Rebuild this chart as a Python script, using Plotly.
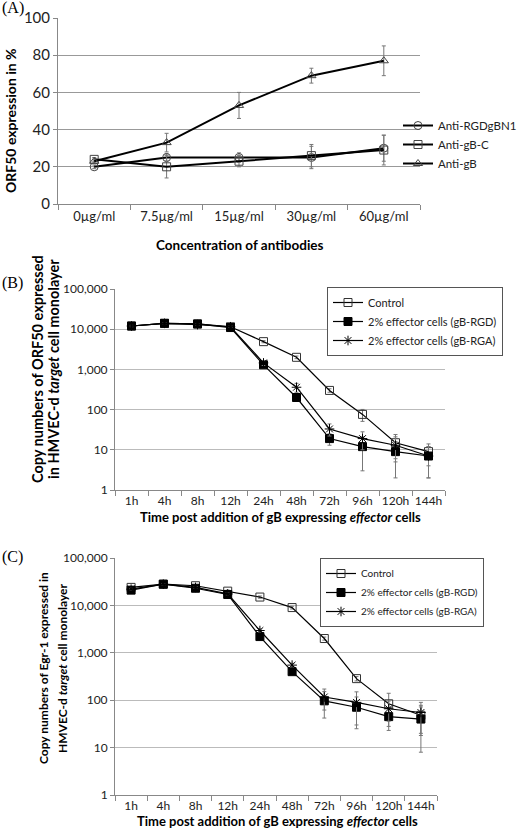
import plotly.graph_objects as go

# ---------------- Data ----------------
conc = ["0µg/ml", "7.5µg/ml", "15µg/ml", "30µg/ml", "60µg/ml"]
a_rgd = [20, 25, 25, 25, 30]
a_rgd_err = [1, 2, 2.5, 6, 7]
a_gbc = [24, 20, 23, 26, 29]
a_gbc_err = [1, 6, 3, 6, 8]
a_gb = [23, 33, 53, 69, 77]
a_gb_err = [1, 5, 7, 4, 8]

times = ["1h", "4h", "8h", "12h", "24h", "48h", "72h", "96h", "120h", "144h"]
b_ctrl = [12000, 14000, 13500, 11500, 4900, 2000, 300, 76, 15, 9]
b_ctrl_err = [500, 500, 500, 500, 300, 150, 30, 25, 9, 5]
b_rgd = [12000, 14000, 13500, 11000, 1300, 200, 19, 12, 9, 7]
b_rgd_err = [500, 500, 500, 500, 150, 30, 6, 9, 7, 5]
b_rga = [12000, 14000, 13000, 11500, 1450, 360, 33, 19, 13, 7]
b_rga_err = [500, 500, 500, 500, 200, 90, 11, 9, 8, 5]

c_ctrl = [24000, 28000, 26000, 20000, 15000, 9000, 2000, 285, 84, 48]
c_ctrl_err = [1000, 1000, 1000, 1000, 800, 600, 150, 30, 56, 30]
c_rgd = [21000, 28000, 23000, 17000, 2200, 400, 97, 71, 45, 40]
c_rgd_err = [1000, 1000, 1000, 1000, 200, 40, 55, 46, 22, 32]
c_rga = [22000, 28000, 24000, 17500, 2950, 550, 117, 90, 66, 55]
c_rga_err = [1000, 1000, 1000, 1000, 250, 50, 55, 60, 30, 35]

log_ticks = [1, 10, 100, 1000, 10000, 100000]
log_ticktext = ["1", "10", "100", "1,000", "10,000", "100,000"]
a_ticks = [0, 20, 40, 60, 80, 100]

W, H = 520, 828
FONT = "Lato"
ERR = dict(type="data", thickness=1, width=2, color="#777")


def px(x):
    return x / W


def py(y):
    return 1 - y / H


fig = go.Figure()

# Panel A
for name, ys, err, sym in [
    ("Anti-RGDgBN1", a_rgd, a_rgd_err, "circle-open"),
    ("Anti-gB-C", a_gbc, a_gbc_err, "square-open"),
    ("Anti-gB", a_gb, a_gb_err, "triangle-up-open"),
]:
    fig.add_trace(go.Scatter(
        x=conc, y=ys, name=name, mode="lines+markers",
        line=dict(color="black", width=2),
        marker=dict(symbol=sym, size=8, color="#444", line=dict(width=1, color="#444")),
        error_y=dict(array=err, **ERR),
        xaxis="x", yaxis="y", legend="legend",
    ))

# Panel B
for name, ys, err, sym, col in [
    ("Control", b_ctrl, b_ctrl_err, "square-open", "#333"),
    ("2% effector cells (gB-RGD)", b_rgd, b_rgd_err, "square", "black"),
    ("2% effector cells (gB-RGA)", b_rga, b_rga_err, "asterisk-open", "black"),
]:
    fig.add_trace(go.Scatter(
        x=times, y=ys, name=name, mode="lines+markers",
        line=dict(color="black", width=1.2),
        marker=dict(symbol=sym, size=8, color=col, line=dict(width=1, color=col)),
        error_y=dict(array=err, **ERR),
        xaxis="x2", yaxis="y2", legend="legend2",
    ))

# Panel C
for name, ys, err, sym, col in [
    ("Control", c_ctrl, c_ctrl_err, "square-open", "#333"),
    ("2% effector cells (gB-RGD)", c_rgd, c_rgd_err, "square", "black"),
    ("2% effector cells (gB-RGA)", c_rga, c_rga_err, "asterisk-open", "black"),
]:
    fig.add_trace(go.Scatter(
        x=times, y=ys, name=name, mode="lines+markers",
        line=dict(color="black", width=1.2),
        marker=dict(symbol=sym, size=8, color=col, line=dict(width=1, color=col)),
        error_y=dict(array=err, **ERR),
        xaxis="x3", yaxis="y3", legend="legend3",
    ))


def xax(size):
    return dict(type="category", showgrid=False, showline=True, linecolor="#888",
                ticks="outside", tickson="boundaries", ticklen=5, tickcolor="#888",
                tickangle=0, automargin=False,
                tickfont=dict(family=FONT, size=size, color="#222"), zeroline=False)


def yax(size, grid):
    return dict(showgrid=True, gridcolor=grid, showline=True, linecolor="#888",
                ticks="outside", ticklen=4, tickcolor="#888", zeroline=False,
                automargin=False, tickfont=dict(family=FONT, size=size, color="#222"))


fig.update_layout(
    width=W, height=H, margin=dict(l=0, r=0, t=0, b=0, autoexpand=False),
    paper_bgcolor="white", plot_bgcolor="white",
    font=dict(family=FONT, color="#222"),
    xaxis=dict(domain=[px(58), px(420)], range=[-0.5, 4.5], anchor="y", **xax(13)),
    yaxis=dict(domain=[py(204), py(18)], range=[0, 100], tickvals=a_ticks, anchor="x",
               **yax(15, "#999")),
    xaxis2=dict(domain=[px(115), px(445)], range=[-0.5, 9.5], anchor="y2", **xax(12)),
    yaxis2=dict(domain=[py(490), py(289)], type="log", range=[0, 5], tickvals=log_ticks,
                ticktext=log_ticktext, anchor="x2", **yax(12, "#bbb")),
    xaxis3=dict(domain=[px(115), px(437)], range=[-0.5, 9.5], anchor="y3", **xax(12)),
    yaxis3=dict(domain=[py(795), py(558)], type="log", range=[0, 5], tickvals=log_ticks,
                ticktext=log_ticktext, anchor="x3", **yax(12, "#bbb")),
    legend=dict(x=px(398), y=py(111), xanchor="left", yanchor="top",
                font=dict(family=FONT, size=11.5, color="#222"), bgcolor="rgba(0,0,0,0)",
                itemwidth=30, tracegroupgap=0),
    legend2=dict(x=px(327), y=py(287), xanchor="left", yanchor="top",
                 font=dict(family=FONT, size=11, color="#222"), bgcolor="white",
                 bordercolor="#555", borderwidth=1, itemwidth=30),
    legend3=dict(x=px(320), y=py(558), xanchor="left", yanchor="top",
                 font=dict(family=FONT, size=10, color="#222"), bgcolor="white",
                 bordercolor="#555", borderwidth=1, itemwidth=30),
)

ann = [
    dict(text="(A)", x=0, y=py(8),
         font=dict(family="Liberation Serif", size=16, color="black"), xanchor="left"),
    dict(text="(B)", x=0, y=py(283),
         font=dict(family="Liberation Serif", size=16, color="black"), xanchor="left"),
    dict(text="(C)", x=0, y=py(557),
         font=dict(family="Liberation Serif", size=16, color="black"), xanchor="left"),
    dict(text="<b>ORF50 expression in %</b>", x=px(11), y=py(121), textangle=-90,
         font=dict(family=FONT, size=14, color="black")),
    dict(text="<b>Concentration of antibodies</b>", x=px(240), y=py(245),
         font=dict(family=FONT, size=13.5, color="black")),
    dict(text="<b>Copy numbers of ORF50 expressed</b>",
         x=px(37), y=py(369), textangle=-90,
         font=dict(family=FONT, size=14.5, color="black")),
    dict(text="<b>in HMVEC-d <i>target</i> cell monolayer</b>",
         x=px(53), y=py(369), textangle=-90,
         font=dict(family=FONT, size=14.5, color="black")),
    dict(text="<b>Time post addition of gB expressing <i>effector</i> cells</b>",
         x=px(280), y=py(517), font=dict(family=FONT, size=13, color="black")),
    dict(text="<b>Copy numbers of Egr-1 expressed in</b>",
         x=px(43), y=py(668), textangle=-90,
         font=dict(family=FONT, size=12, color="black")),
    dict(text="<b>HMVEC-d <i>target</i> cell monolayer</b>",
         x=px(62), y=py(668), textangle=-90,
         font=dict(family=FONT, size=12, color="black")),
    dict(text="<b>Time post addition of gB expressing <i>effector</i> cells</b>",
         x=px(277), y=py(821), font=dict(family=FONT, size=13, color="black")),
]
for a in ann:
    a.update(xref="paper", yref="paper", showarrow=False)
    a.setdefault("xanchor", "center")
    a.setdefault("yanchor", "middle")
fig.update_layout(annotations=ann)

# remove the browser's default 8px body margin so the figure fills the window exactly
fig.write_html("out.html", config={"displayModeBar": False},
               post_script="document.body.style.margin='0px';")
